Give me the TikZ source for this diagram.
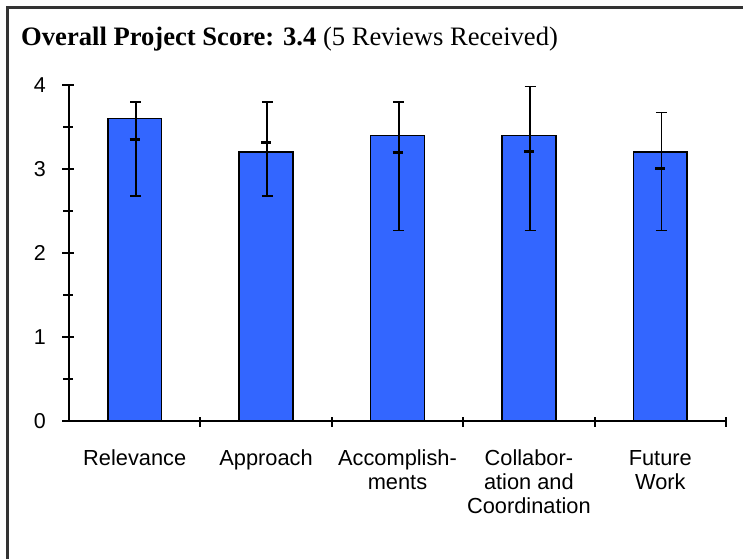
\documentclass[tikz,border=0pt]{standalone}
\usepackage{fontspec}
\setmainfont{Liberation Serif}
\setsansfont{Liberation Sans}
\usetikzlibrary{positioning}
\definecolor{barblue}{RGB}{51,102,255}
\definecolor{framegray}{RGB}{51,51,51}

\begin{document}
\begin{tikzpicture}[x=1pt,y=1pt,
    bar/.style={fill=barblue,draw=black,line width=1.5pt},
    axis/.style={line width=1.9pt},
    errline/.style={line width=1.9pt},
    errcap/.style={line width=1.5pt},
    meanmark/.style={line width=3pt},
    catlabel/.style={anchor=north,inner sep=0pt,align=center,font=\sffamily\fontsize{21.8}{24}\selectfont},
    vallabel/.style={anchor=east,inner sep=0pt,font=\sffamily\fontsize{21.5}{24}\selectfont}]
\useasboundingbox (0,0) rectangle (743,559);

% frame and title
\draw[framegray,line width=2.4pt] (7.5,0) -- (7.5,551.5) -- (743,551.5);
\node[anchor=base west,inner sep=0pt,font=\fontsize{26.6}{30}\selectfont] (title) at (21,513.3)
    {\textbf{Overall Project Score: 3.4} (5 Reviews Received)};

\begin{scope}[shift={(69,138)},x=131.4pt,y=84pt]
% bars with error bars
\foreach \i/\val/\hi/\lo/\mean in {1/3.6/3.8/2.68/3.35, 2/3.2/3.8/2.68/3.31, 3/3.4/3.8/2.27/3.2, 4/3.4/3.98/2.27/3.21, 5/3.2/3.67/2.27/3.0} {
    \draw[bar] (\i-0.5-0.205,0) rectangle (\i-0.5+0.205,\val);
    \draw[errline] (\i-0.5+0.009,\lo) -- (\i-0.5+0.009,\hi);
    \draw[errcap] (\i-0.5+0.009,\hi) ++(-5.5pt,0) -- ++(11pt,0);
    \draw[errcap] (\i-0.5+0.009,\lo) ++(-5.5pt,0) -- ++(11pt,0);
    \draw[meanmark] (\i-0.5,\mean) ++(-5pt,0) -- ++(10pt,0);
}

% axes and ticks
\draw[axis] (0,4) -- (0,0) -- (5,0);
\foreach \v in {0,...,4} {
    \draw[axis] (0,\v) ++(-7pt,0) -- ++(12pt,0);
    \node[vallabel,xshift=-23pt] (y\v) at (0,\v) {\v};
}
\foreach \v in {0.5,1.5,2.5,3.5}
    \draw[axis] (0,\v) ++(-6pt,0) -- ++(10pt,0);
\foreach \i in {1,...,5}
    \draw[axis] (\i,0) ++(0,-6pt) -- ++(0,10pt);

% category labels
\foreach \i/\name in {1/Relevance, 2/Approach, 3/Accomplish-\\ments, 4/Collabor-\\ation and\\Coordination, 5/Future\\Work}
    \node[catlabel,yshift=-29pt] (cat\i) at (\i-0.5,0) {\name};
\end{scope}
\end{tikzpicture}
\end{document}
